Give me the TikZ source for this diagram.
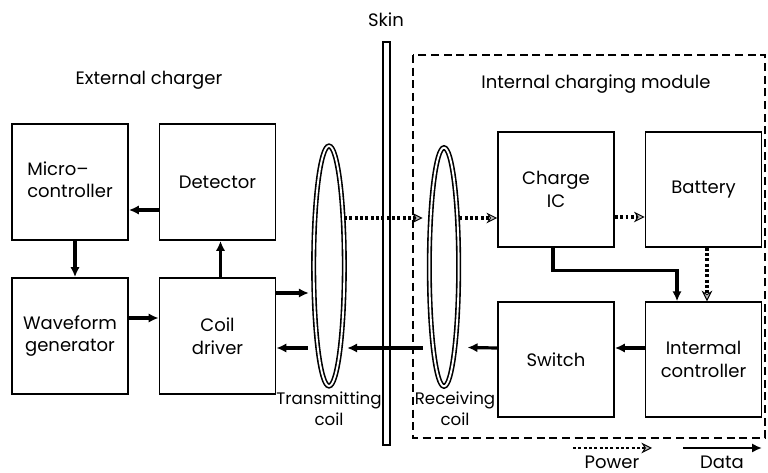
\documentclass[tikz,border=0pt]{standalone}
\usepackage{fontspec}
\setmainfont{Poppins}
\usetikzlibrary{arrows.meta,calc,shapes.geometric}
\begin{document}
\begin{tikzpicture}[x=0.75pt,y=-0.75pt,
  font=\fontsize{13.5}{17}\selectfont,
  blk/.style={draw,line width=1.3pt,minimum width=87pt,minimum height=87pt,inner sep=0pt,align=center},
  coil/.style={draw,ellipse,double,double distance=1.4pt,line width=1.2pt,inner sep=0pt},
  data/.style={line width=2.4pt,-{Latex[length=7.5pt,width=7pt]}},
  power/.style={line width=2.6pt,dash pattern=on 2.2pt off 1.8pt,-{Stealth[length=8pt,width=8pt,fill=gray!55,line width=0.7pt]}},
  lbl/.style={inner sep=0pt,align=center}]
\useasboundingbox (0,0) rectangle (768,473);
% blocks
\node[blk] (micro) at (70,182) {\begin{tabular}{@{}l@{}}Micro–\\controller\end{tabular}};
\node[blk] (det) at (217.5,182) {Detector};
\node[blk] (wave) at (70,336) {Waveform\\generator};
\node[blk] (drv) at (217.5,336) {Coil\\driver};
\node[blk,minimum height=86pt] (ic) at (556,189.5) {Charge\\IC};
\node[blk,minimum height=86pt] (bat) at (703.5,189.5) {Battery};
\node[blk,minimum height=86pt] (sw) at (556,359.5) {Switch};
\node[blk,minimum height=86pt] (ctrl) at (703.5,359.5) {Intermal\\controller};
% coils and skin
\node[coil,minimum width=23pt,minimum height=180pt] (tx) at (329,266) {};
\node[coil,minimum width=22pt,minimum height=179pt] (rx) at (444,267) {};
\draw[line width=1pt] (383,42) rectangle (390,445);
\draw[line width=2pt,dash pattern=on 6pt off 3.5pt] (413,55) rectangle (765,438);
% labels
\node[lbl] (skin) at (386,20) {Skin};
\node[lbl] (ext) at (149,80) {External charger};
\node[lbl] (intm) at (596,84) {Internal charging module};
\node[lbl,font=\fontsize{12.5}{16}\selectfont] (txl) at (329,409) {Transmitting\\coil};
\node[lbl,font=\fontsize{12.5}{16}\selectfont] (rxl) at (455,409) {Receiving\\coil};
% data arrows
\draw[data] ($(det.west)+(0,28)$) -- ($(micro.east)+(0,28)$);
\draw[data] ($(micro.south)+(5,0)$) -- ($(wave.north)+(5,0)$);
\draw[data] ($(drv.north)+(3,0)$) -- ($(det.south)+(3,0)$);
\draw[data] ($(wave.east)+(0,-18)$) -- ($(drv.west)+(0,-18)$);
\draw[data] ($(drv.east)+(0,-43)$) -- ($(tx.west)+(-4,27)$);
\draw[data] ($(tx.west)+(-5,82)$) -- ($(drv.east)+(0,12)$);
\draw[data] ($(rx.west)+(-6,81)$) -- ($(tx.east)+(2,82)$);
\draw[data] ($(sw.west)+(0,-11.5)$) -- ($(rx.east)+(8,80.5)$);
\draw[data] ($(ctrl.west)+(0,-11.5)$) -- ($(sw.east)+(0,-11.5)$);
\draw[data] ($(ic.south)+(-3,0)$) -- ++(0,23) -| ($(ctrl.north)+(-26.5,0)$);
% power arrows
\draw[power] ($(tx.east)+(-1,-48)$) -- ($(rx.west)+(-6,-49)$);
\draw[power] ($(rx.east)+(0,-49)$) -- ($(ic.west)+(0,28.5)$);
\draw[power] ($(ic.east)+(0,27.5)$) -- ($(bat.west)+(0,27.5)$);
\draw[power] ($(bat.south)+(3.5,0)$) -- ($(ctrl.north)+(3.5,0)$);
% legend
\coordinate (p1) at (573,448);
\coordinate (p2) at (652,448);
\coordinate (d1) at (683,448);
\coordinate (d2) at (762,448);
\draw[power,line width=2pt] (p1) -- (p2);
\draw[data,line width=1.6pt] (d1) -- (d2);
\node[lbl] (pw) at (612,462) {Power};
\node[lbl] (dt) at (722,462) {Data};
\end{tikzpicture}
\end{document}
